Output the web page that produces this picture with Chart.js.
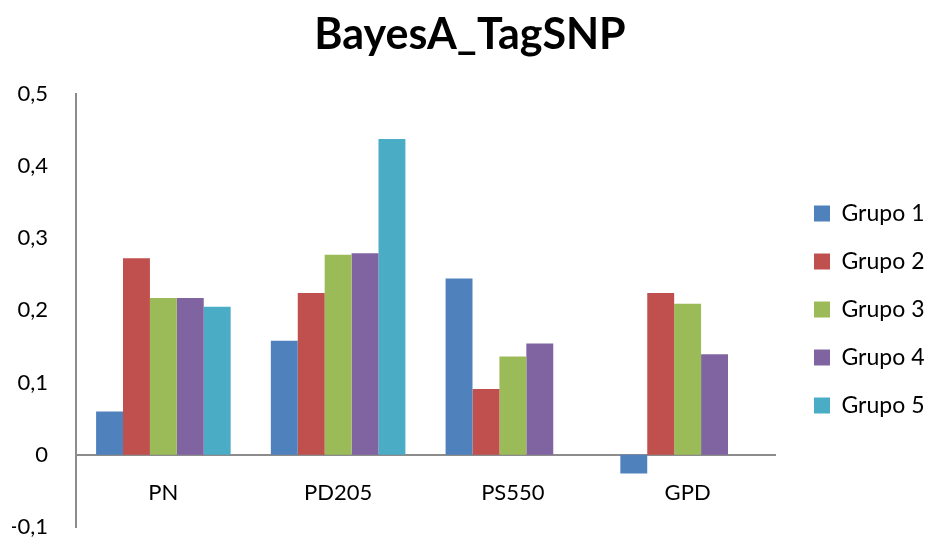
<!DOCTYPE html>
<html>
<head>
<meta charset="utf-8">
<script src="https://cdn.jsdelivr.net/npm/chart.js@4"></script>
<style>
  html, body { margin: 0; padding: 0; background: #fff; }
  #wrap { width: 928px; height: 541px; }
</style>
</head>
<body>
<div id="wrap"><canvas id="chart"></canvas></div>
<script>
const categories = ['PN', 'PD205', 'PS550', 'GPD'];
const grupo1 = [0.060, 0.158, 0.244, -0.026];
const grupo2 = [0.272, 0.224, 0.091, 0.224];
const grupo3 = [0.217, 0.277, 0.136, 0.209];
const grupo4 = [0.217, 0.279, 0.154, 0.139];
const grupo5 = [0.205, 0.437, null, null];
const seriesNames = ['Grupo 1', 'Grupo 2', 'Grupo 3', 'Grupo 4', 'Grupo 5'];
const seriesColors = ['#4F81BD', '#C0504D', '#9BBB59', '#8064A2', '#4BACC6'];

const font = "Lato, 'Open Sans', sans-serif";
Chart.defaults.font.family = font;
Chart.defaults.color = '#000';

const allSeries = [grupo1, grupo2, grupo3, grupo4, grupo5];
const datasets = allSeries.map((data, i) => ({
    label: seriesNames[i],
    data: data,
    backgroundColor: seriesColors[i],
    borderWidth: 0,
    categoryPercentage: 0.77,
    barPercentage: 1.0
}));

// legend column: fixed width, items start a little right of the plot at a set height
const LEGEND_WIDTH = 153;
const LEGEND_SHIFT_X = 14;
const LEGEND_TOP = 177;
const legendLayout = {
    id: 'legendLayout',
    beforeUpdate(chart) {
        const lg = chart.legend;
        if (!lg || lg._patched) return;
        const fit = lg.fit;
        lg.fit = function () { fit.call(this); this.width = LEGEND_WIDTH; };
        const draw = lg.draw;
        lg.draw = function () {
            const top = this.top;
            this.left += LEGEND_SHIFT_X;
            this.top = LEGEND_TOP;
            draw.call(this);
            this.left -= LEGEND_SHIFT_X;
            this.top = top;
        };
        lg._patched = true;
    }
};

new Chart(document.getElementById('chart'), {
    type: 'bar',
    data: { labels: categories, datasets },
    plugins: [legendLayout],
    options: {
        responsive: true,
        maintainAspectRatio: false,
        animation: false,
        layout: { padding: { left: 12, right: 0, top: 0, bottom: 14 } },
        plugins: {
            title: {
                display: true,
                text: 'BayesA_TagSNP',
                font: { size: 43, weight: 'bold' },
                padding: { top: 9, bottom: 33 }
            },
            legend: {
                position: 'right',
                align: 'start',
                labels: {
                    boxWidth: 16,
                    boxHeight: 16,
                    padding: 25,
                    font: { size: 23 }
                }
            },
            tooltip: { enabled: false }
        },
        scales: {
            x: {
                position: { y: 0 },
                afterFit: s => {
                    // the axis sits on the zero line, it should not take room
                    s.height = 0;
                    s.paddingTop = 0;
                    s.paddingBottom = 0;
                },
                grid: { display: false, drawTicks: false },
                border: { display: true, color: '#8c8c8c', width: 2 },
                ticks: { font: { size: 22 }, padding: 25 }
            },
            y: {
                min: -0.1,
                max: 0.5,
                afterFit: s => {
                    s.width = 64;
                    s.paddingBottom = 0;
                },
                grid: { display: false, drawTicks: false },
                border: { display: true, color: '#8c8c8c', width: 2 },
                ticks: {
                    stepSize: 0.1,
                    padding: 28,
                    font: { size: 22 },
                    callback: v => {
                        const r = Math.round(v * 10) / 10;
                        return r === 0 ? '0' : r.toFixed(1).replace('.', ',');
                    }
                }
            }
        }
    }
});
</script>
</body>
</html>
